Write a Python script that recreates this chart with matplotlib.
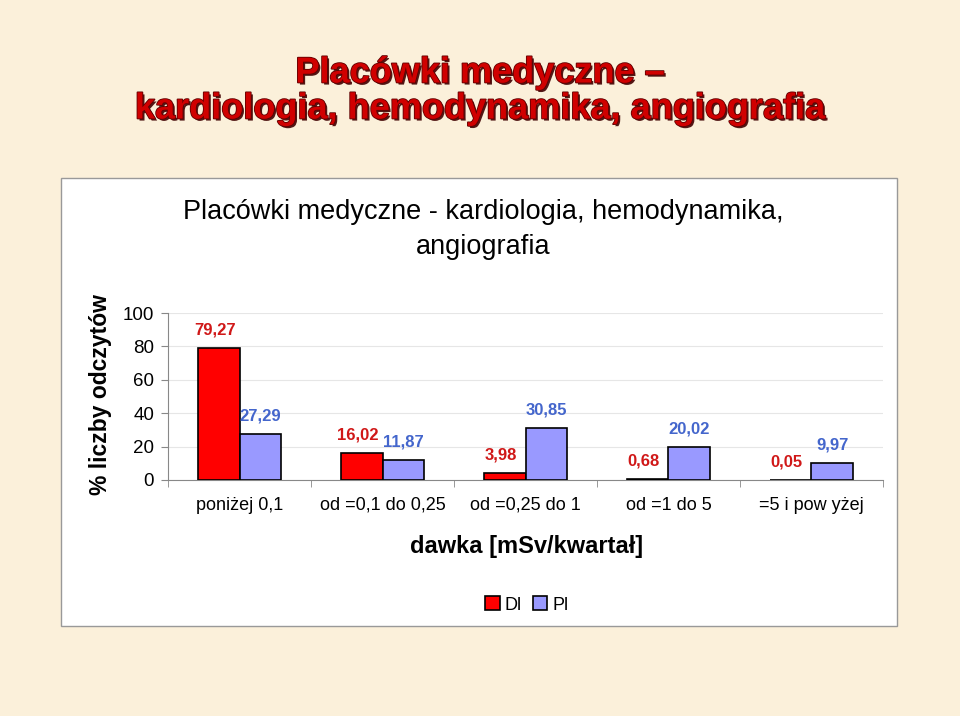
import numpy as np
import matplotlib
matplotlib.use('Agg')
import matplotlib.pyplot as plt
import matplotlib.patheffects as pe
from matplotlib.patches import Rectangle

# data
categories = ['poniżej 0,1', 'od =0,1 do 0,25', 'od =0,25 do 1', 'od =1 do 5', '=5 i pow yżej']
dl_values = [79.27, 16.02, 3.98, 0.68, 0.05]
pl_values = [27.29, 11.87, 30.85, 20.02, 9.97]
series_names = ['Dl', 'Pl']
yticks = [0, 20, 40, 60, 80, 100]

plt.rcParams['font.family'] = ['Liberation Sans', 'DejaVu Sans']

fig = plt.figure(figsize=[9.6, 7.16], dpi=100, facecolor='#FBF0DA')

# white chart box
box = Rectangle((61/960, 1-626/716), (897-61)/960, (626-178)/716, transform=fig.transFigure,
                facecolor='white', edgecolor='#999999', linewidth=1, zorder=-1)
fig.patches.append(box)

# big red title
title_fx = [pe.SimplePatchShadow(offset=(1.5, -1.5), shadow_rgbFace='#400000', alpha=0.9),
            pe.withStroke(linewidth=1.2, foreground='#600000')]
fig.text(0.5, 1-73/716, 'Placówki medyczne –', ha='center', va='center', fontsize=26,
         fontweight='bold', color='#D00000', path_effects=title_fx)
fig.text(0.5, 1-109/716, 'kardiologia, hemodynamika, angiografia', ha='center', va='center',
         fontsize=26, fontweight='bold', color='#D00000', path_effects=title_fx)

# chart title
fig.text(483/960, 1-212/716, 'Placówki medyczne - kardiologia, hemodynamika,', ha='center',
         va='center', fontsize=19.5)
fig.text(483/960, 1-247/716, 'angiografia', ha='center', va='center', fontsize=19.5)

ax = fig.add_axes([168/960, 1-480/716, (883-168)/960, (480-313)/716])
ax.set_zorder(2)
ax.set_facecolor('white')

x = np.arange(len(categories))
w = 0.29
b1 = ax.bar(x - w/2, dl_values, w, color='#FF0000', edgecolor='black', linewidth=1.2,
            label=series_names[0], zorder=3)
b2 = ax.bar(x + w/2, pl_values, w, color='#9999FF', edgecolor='black', linewidth=1.2,
            label=series_names[1], zorder=3)

for xi, v in zip(x - w/2, dl_values):
    ax.annotate(f'{v:.2f}'.replace('.', ','), (xi, v), xytext=(-3, 13), textcoords='offset points',
                ha='center', va='center', fontsize=12, fontweight='bold', color='#D01818')
for xi, v in zip(x + w/2, pl_values):
    ax.annotate(f'{v:.2f}'.replace('.', ','), (xi, v), xytext=(0, 13), textcoords='offset points',
                ha='center', va='center', fontsize=12, fontweight='bold', color='#4466CC')

ax.set_xlim(-0.5, len(categories) - 0.5)
ax.set_ylim(0, 100)
ax.set_yticks(yticks)
ax.tick_params(axis='y', labelsize=13.5, length=5, color='#888888', pad=5)
ax.set_xticks(x)
ax.set_xticklabels(categories, fontsize=13)
ax.tick_params(axis='x', length=0, pad=12)
ax.set_xticks(np.arange(len(categories) + 1) - 0.5, minor=True)
ax.tick_params(axis='x', which='minor', length=5, color='#888888')
ax.grid(axis='y', color='#E6E6E6', linewidth=0.8, zorder=0)
for s in ['top', 'right']:
    ax.spines[s].set_visible(False)
for s in ['left', 'bottom']:
    ax.spines[s].set_color('#888888')

fig.text(100/960, 1-395/716, '% liczby odczytów', rotation=90, ha='center', va='center',
         fontsize=16.5, fontweight='bold')
fig.text(527/960, 1-547/716, 'dawka [mSv/kwartał]', ha='center', va='center', fontsize=17,
         fontweight='bold')

fig.legend(handles=[b1, b2], loc='center', bbox_to_anchor=(527/960, 1-605/716), ncol=2,
           frameon=False, fontsize=13, handlelength=0.8, handleheight=0.8, handletextpad=0.3,
           columnspacing=0.6)

fig.savefig('out.png', dpi=100, facecolor=fig.get_facecolor())
